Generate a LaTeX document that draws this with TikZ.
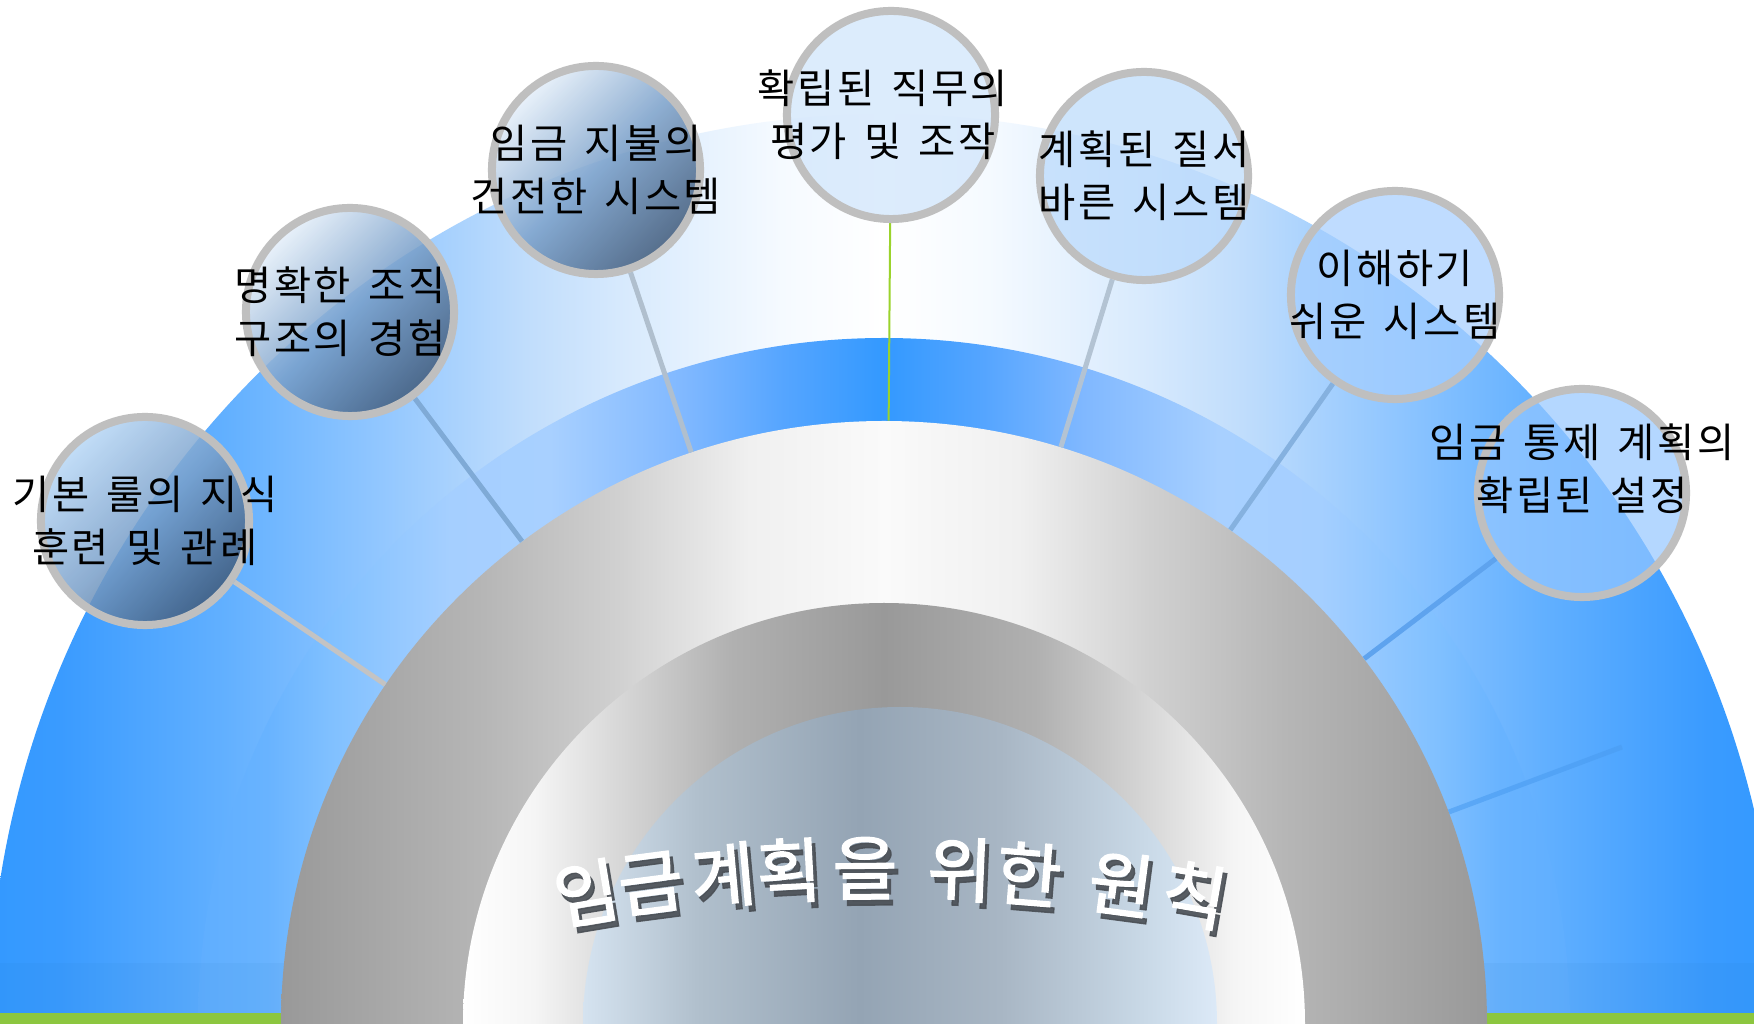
\documentclass[tikz,border=0pt]{standalone}
\usepackage{fontspec}
\usepackage{xcolor}
\usepackage{tikz}
\usetikzlibrary{calc}
\newfontfamily\kfont[LetterSpace=6,WordSpace=1.5]{Noto Sans CJK KR}
\newfontfamily\titlefont[FakeBold=2]{Noto Sans CJK KR}

% colours of the bands
\definecolor{ob0}{HTML}{3399FF}\definecolor{ob1}{HTML}{3A9BFF}\definecolor{ob2}{HTML}{62B0FF}
\definecolor{ob3}{HTML}{8EC5FF}\definecolor{ob4}{HTML}{C0DDFC}\definecolor{ob5}{HTML}{D8EAFD}
\definecolor{ob6}{HTML}{F5FAFF}\definecolor{ob7}{HTML}{FFFFFF}
\definecolor{mb0}{HTML}{3399FF}\definecolor{mb1}{HTML}{55A5FF}\definecolor{mb2}{HTML}{80B8FF}
\definecolor{mb3}{HTML}{A8D0FF}\definecolor{mb4}{HTML}{A5CFFF}\definecolor{mb5}{HTML}{80C0FF}
\definecolor{mb6}{HTML}{68B3FF}\definecolor{mb7}{HTML}{5FAEFF}
\definecolor{gr0}{HTML}{999999}\definecolor{gr1}{HTML}{B6B6B6}\definecolor{gr2}{HTML}{D0D0D0}
\definecolor{gr3}{HTML}{F0F0F0}\definecolor{gr4}{HTML}{FAFAFA}
\definecolor{ir0}{HTML}{FFFFFF}\definecolor{ir1}{HTML}{F5F5F5}\definecolor{ir2}{HTML}{D8D8D8}
\definecolor{ir3}{HTML}{B0B0B0}\definecolor{ir4}{HTML}{999999}
\definecolor{ds0}{HTML}{D5E3F0}\definecolor{ds1}{HTML}{B0BFCC}\definecolor{ds2}{HTML}{94A4B4}
\definecolor{ds3}{HTML}{A8B6C4}\definecolor{ds4}{HTML}{CADAE8}\definecolor{ds5}{HTML}{DCE9F7}
% colours of the bubbles and links
\definecolor{rimgray}{HTML}{BFBFBF}
\definecolor{dkA}{HTML}{E6F0FA}\definecolor{dkA1}{HTML}{B8D8F7}
\definecolor{dkB}{HTML}{7AA0CA}\definecolor{dkC}{HTML}{3E5878}
\definecolor{lt1}{HTML}{CEE4FC}\definecolor{lt2}{HTML}{BADAFC}
\definecolor{lt3}{HTML}{A4CEFF}\definecolor{lt4}{HTML}{95C7FF}
\definecolor{lk1}{HTML}{C3C3C3}\definecolor{lk2}{HTML}{7FAAD6}\definecolor{lk3}{HTML}{B0BFCE}
\definecolor{lk4}{HTML}{9BD32C}\definecolor{lk5}{HTML}{B3C3D3}\definecolor{lk6}{HTML}{85B1DF}
\definecolor{lk7}{HTML}{5EA3EE}\definecolor{lk8}{HTML}{4A9CF0}
\definecolor{grass}{HTML}{8CC63F}\definecolor{haze}{HTML}{1F6FB8}
\definecolor{titleshade}{HTML}{4A4F55}

\pgfdeclarehorizontalshading{outerband}{100bp}{color(0bp)=(ob0); color(25bp)=(ob0); color(27bp)=(ob1);
  color(31.6bp)=(ob2); color(35.6bp)=(ob3); color(40bp)=(ob4); color(42.8bp)=(ob5); color(47.1bp)=(ob6);
  color(50bp)=(ob7); color(52.9bp)=(ob6); color(57.2bp)=(ob5); color(60bp)=(ob4); color(64.4bp)=(ob3);
  color(68.4bp)=(ob2); color(73bp)=(ob1); color(75bp)=(ob0); color(100bp)=(ob0)}
\pgfdeclarehorizontalshading{midband}{100bp}{color(0bp)=(mb7); color(25bp)=(mb7); color(27.51bp)=(mb6);
  color(29.81bp)=(mb5); color(34.18bp)=(mb4); color(37.83bp)=(mb3); color(42.71bp)=(mb2); color(46.36bp)=(mb1);
  color(50bp)=(mb0); color(53.64bp)=(mb1); color(57.29bp)=(mb2); color(62.17bp)=(mb3); color(65.82bp)=(mb4);
  color(70.19bp)=(mb5); color(72.49bp)=(mb6); color(75bp)=(mb7); color(100bp)=(mb7)}
\pgfdeclarehorizontalshading{grayband}{100bp}{color(0bp)=(gr0); color(25bp)=(gr0); color(33.42bp)=(gr1);
  color(38.93bp)=(gr2); color(44.44bp)=(gr3); color(50bp)=(gr4); color(55.56bp)=(gr3); color(61.07bp)=(gr2);
  color(66.58bp)=(gr1); color(75bp)=(gr0); color(100bp)=(gr0)}
\pgfdeclarehorizontalshading{innerband}{100bp}{color(0bp)=(ir0); color(25bp)=(ir0); color(29.22bp)=(ir1);
  color(34.14bp)=(ir2); color(41.03bp)=(ir3); color(50bp)=(ir4); color(58.97bp)=(ir3); color(65.86bp)=(ir2);
  color(70.78bp)=(ir1); color(75bp)=(ir0); color(100bp)=(ir0)}
\pgfdeclarehorizontalshading{coredisc}{100bp}{color(0bp)=(ds0); color(25bp)=(ds0); color(34.2bp)=(ds1);
  color(46.8bp)=(ds2); color(57.9bp)=(ds3); color(69.7bp)=(ds4); color(75bp)=(ds5); color(100bp)=(ds5)}

\pgfdeclarelayer{back}
\pgfdeclarelayer{links}
\pgfsetlayers{back,links,main}

\begin{document}
\begin{tikzpicture}
    [
    x=0.01cm, y=0.01cm,
    bubble/.style={circle, draw=rimgray, line width=0.08cm, minimum size=2.08cm, inner sep=0pt},
    darkbubble/.style={bubble, top color=#1, bottom color=dkC, middle color=dkB, shading angle=45, fill opacity=0.85},
    darkbubble/.default=dkA,
    lightbubble/.style={bubble, fill=#1, fill opacity=0.7},
    caption/.style={font=\kfont\fontsize{11.5}{15}\selectfont, align=center, text=black, inner sep=0pt},
    link/.style={line width=0.05cm, draw=#1},
    glyph/.style={font=\titlefont\fontsize{20}{20}\selectfont, inner sep=0pt, text=white},
    glyphshadow/.style={glyph, text=titleshade, text opacity=0.9},
    ]
    \useasboundingbox (0,0) rectangle (1754,1024);
    \coordinate (O) at (884,0);
    \coordinate (디스크) at (900,0);

    % % 반원 띠
    \begin{pgfonlayer}{back}
        \fill[white] (0,0) rectangle (1754,1024);
        \shade[shading=outerband] (O) ++(-895,0) arc[start angle=180, end angle=0, x radius=895, y radius=910] -- cycle;
        \shade[shading=midband] (O) ++(-686,0) arc[start angle=180, end angle=0, radius=686] -- cycle;
        \begin{scope}
            \clip (O) ++(-895,0) arc[start angle=180, end angle=0, x radius=895, y radius=910] -- cycle;
            \fill[haze, opacity=0.06] (0,11) rectangle (1754,61);
            \fill[grass] (0,0) rectangle (1754,11);
        \end{scope}
        \shade[shading=grayband] (O) ++(-603,0) arc[start angle=180, end angle=0, radius=603] -- cycle;
        \shade[shading=innerband] (O) ++(-421,0) arc[start angle=180, end angle=0, radius=421] -- cycle;
        \shade[shading=coredisc] (디스크) ++(-317,0) arc[start angle=180, end angle=0, radius=317] -- cycle;
    \end{pgfonlayer}

    % % 원
    \node[darkbubble=dkA1] (기본) at (145,503) {};
    \node[darkbubble] (조직) at (350,712) {};
    \node[darkbubble] (지불) at (596,854) {};
    \node[lightbubble=lt1] (직무) at (891,909) {};
    \node[lightbubble=lt2] (질서) at (1144,848) {};
    \node[lightbubble=lt3] (이해) at (1395,729) {};
    \node[lightbubble=lt4] (통제) at (1582,531) {};

    \node[caption] (기본글) at (기본) {기본 룰의 지식\\훈련 및 관례};
    \node[caption, xshift=-0.1cm] (조직글) at (조직) {명확한 조직\\구조의 경험};
    \node[caption] (지불글) at (지불) {임금 지불의\\건전한 시스템};
    \node[caption, xshift=-0.08cm] (직무글) at (직무) {확립된 직무의\\평가 및 조작};
    \node[caption] (질서글) at (질서) {계획된 질서\\바른 시스템};
    \node[caption] (이해글) at (이해) {이해하기\\쉬운 시스템};
    \node[caption, yshift=0.24cm] (통제글) at (통제) {임금 통제 계획의\\확립된 설정};

    % % 연결선
    \coordinate (꼬리) at (1622,277);
    \begin{pgfonlayer}{links}
        \draw[link=lk1] (기본) -- ($(O)!6.03cm!(기본)$);
        \draw[link=lk2] (조직) -- ($(O)!6.03cm!(조직)$);
        \draw[link=lk3] (지불) -- ($(O)!6.03cm!(지불)$);
        \draw[link=lk4, line width=0.02cm] (직무) -- ($(O)!6.03cm!(직무)$);
        \draw[link=lk5] (질서) -- ($(O)!6.03cm!(질서)$);
        \draw[link=lk6] (이해) -- ($(O)!6.03cm!(이해)$);
        \draw[link=lk7] (통제) -- ($(O)!6.03cm!(통제)$);
        \draw[link=lk8, opacity=0.6] (꼬리) -- ($(O)!6.03cm!(꼬리)$);
    \end{pgfonlayer}

    % % 제목 (호를 따라)
    \coordinate (호심) at (884,-1644);
    \foreach \ch/\off [count=\i] in {임/-299,금/-234,계/-161,획/-95,을/-19,위/76,한/145,원/238,칙/312}
    {
        \pgfmathsetmacro\ang{\off*0.03183}
        \path ([shift={(4,-6)}]호심) ++({90-\ang}:1800) node[glyphshadow, rotate=-\ang] (그림자\i) {\ch};
        \path (호심) ++({90-\ang}:1800) node[glyph, rotate=-\ang] (제목\i) {\ch};
    }
\end{tikzpicture}
\end{document}
